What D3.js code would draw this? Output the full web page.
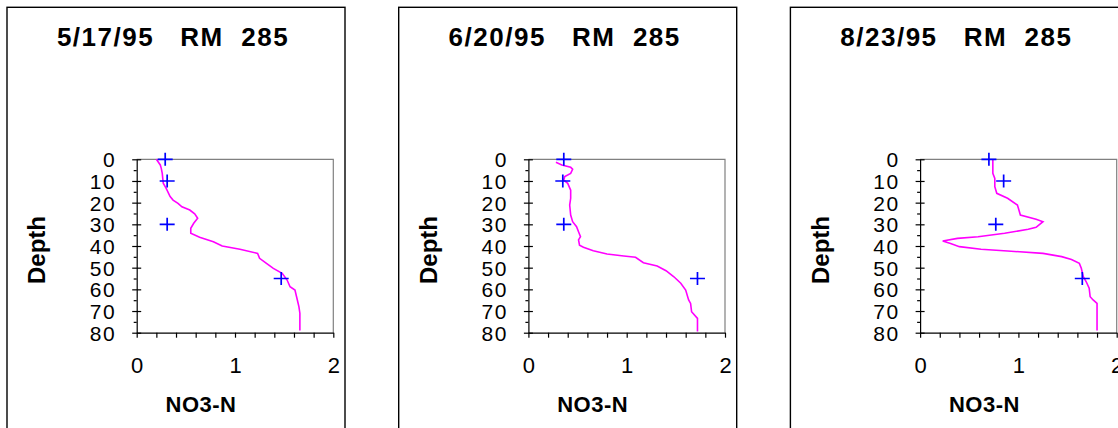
<!DOCTYPE html>
<html>
<head>
<meta charset="utf-8">
<script src="https://cdn.jsdelivr.net/npm/d3@7"></script>
<style>
  body { margin: 0; background: #fff; }
  svg { display: block; font-family: 'Liberation Sans', Arial, sans-serif; }
</style>
</head>
<body>
<div id="drawArea"></div>
<script>
// sample dates (panel titles)
const titles = ['5/17/95   RM  285', '6/20/95   RM  285', '8/23/95   RM  285'];

// discrete samples (blue +)
const sampleDepths = [0, 10, 30, 55];
const samples0517 = [0.29, 0.31, 0.31, 1.47];
const samples0620 = [0.36, 0.35, 0.36, 1.72];
const samples0823 = [0.70, 0.85, 0.77, 1.65];

// continuous profiles (magenta line)
const profDepth0517 = [0, 2.6, 4.2, 6.5, 11, 13.4, 17.2, 18.8, 20.3, 21.9, 23.4, 25.2, 27.2, 29.5, 31.8, 34.1, 36, 38, 40, 41.5, 43.4, 45.7, 48, 50.3, 52.6, 55.7, 58.8, 60.3, 64.1, 68, 71, 79];
const profNO3_0517 = [0.20, 0.24, 0.25, 0.26, 0.27, 0.30, 0.34, 0.37, 0.42, 0.46, 0.54, 0.59, 0.62, 0.58, 0.55, 0.55, 0.64, 0.78, 0.87, 1.05, 1.23, 1.25, 1.32, 1.39, 1.48, 1.53, 1.56, 1.61, 1.63, 1.65, 1.66, 1.66];

const profDepth0620 = [1.4, 2.6, 3.7, 4.6, 6.5, 8, 9.6, 11.1, 14.2, 18, 21.1, 25.7, 28.8, 31.1, 33.4, 35.7, 37.2, 39.6, 40.6, 42.2, 43.7, 44.6, 45.2, 47.7, 49.2, 51.4, 54.2, 57.2, 60.3, 64.9, 66.5, 70.3, 73.4, 79.5];
const profNO3_0620 = [0.28, 0.34, 0.43, 0.45, 0.43, 0.37, 0.36, 0.40, 0.43, 0.43, 0.42, 0.43, 0.45, 0.49, 0.51, 0.53, 0.51, 0.52, 0.56, 0.66, 0.80, 0.97, 1.09, 1.17, 1.31, 1.40, 1.48, 1.55, 1.60, 1.63, 1.65, 1.66, 1.72, 1.72];

const profDepth0823 = [0, 6.5, 8.8, 12.6, 15.7, 18, 21.1, 22.6, 25.7, 27.7, 28.8, 31.4, 32.3, 34.1, 35.7, 36.5, 37.7, 38.8, 40.3, 41.5, 42.3, 43.4, 44.9, 46.2, 48, 50.3, 54.2, 56.5, 59.5, 63.4, 64.9, 66.5, 79];
const profNO3_0823 = [0.74, 0.74, 0.76, 0.76, 0.78, 0.89, 0.99, 1.00, 1.02, 1.18, 1.25, 1.18, 1.10, 0.86, 0.59, 0.38, 0.23, 0.31, 0.40, 0.62, 0.89, 1.25, 1.44, 1.54, 1.62, 1.64, 1.66, 1.69, 1.72, 1.73, 1.76, 1.80, 1.80];

// axis ticks
const depthTicks = [0, 10, 20, 30, 40, 50, 60, 70, 80];
const depthMinorTicks = [5, 15, 25, 35, 45, 55, 65, 75];
const no3Ticks = [0, 0.2, 0.4, 0.6, 0.8, 1, 1.2, 1.4, 1.6, 1.8, 2];

const panels = [
  { title: titles[0], samples: samples0517, depth: profDepth0517, no3: profNO3_0517 },
  { title: titles[1], samples: samples0620, depth: profDepth0620, no3: profNO3_0620 },
  { title: titles[2], samples: samples0823, depth: profDepth0823, no3: profNO3_0823 },
];

const W = 1118, H = 428;
const panelStep = 391.7, panelX0 = 7, panelY0 = 7.3, panelW = 338;

const svg = d3.select('#drawArea').append('svg')
  .attr('width', W)
  .attr('height', H);

const x = d3.scaleLinear().domain([0, 2]).range([129.7, 326.3]);
const y = d3.scaleLinear().domain([0, 80]).range([159.3, 332.7]);

panels.forEach((p, i) => {
  const g = svg.append('g')
    .attr('transform', `translate(${panelX0 + i * panelStep}, 0)`);

  // panel border (runs off the bottom of the picture)
  g.append('rect')
    .attr('x', 0).attr('y', panelY0)
    .attr('width', panelW).attr('height', H)
    .attr('fill', 'none')
    .attr('stroke', '#000')
    .attr('stroke-width', 1.4);

  g.append('text')
    .attr('x', 166)
    .attr('y', 46)
    .attr('text-anchor', 'middle')
    .attr('font-size', 26)
    .attr('font-weight', 'bold')
    .attr('letter-spacing', 1.5)
    .style('white-space', 'pre')
    .text(p.title);

  // plot frame top/right in grey
  g.append('path')
    .attr('d', `M${x(0)},${y(0)}H${x(2)}V${y(80)}`)
    .attr('fill', 'none')
    .attr('stroke', '#808080')
    .attr('stroke-width', 1.2);

  // y axis, major ticks cross the line
  const yAx = g.append('g')
    .attr('transform', `translate(${x(0)},0)`)
    .call(d3.axisLeft(y).tickValues(depthTicks).tickSize(4.5).tickSizeOuter(0).tickPadding(16));
  yAx.selectAll('.tick line').attr('x2', -4.5).attr('x1', 4.5);
  yAx.selectAll('.tick text')
    .attr('font-size', 21)
    .attr('letter-spacing', 1.5)
    .attr('dy', '0.36em');
  yAx.attr('font-family', null).attr('font-size', null);

  g.append('g')
    .attr('transform', `translate(${x(0)},0)`)
    .call(d3.axisLeft(y).tickValues(depthMinorTicks).tickSize(3).tickSizeOuter(0).tickFormat(''))
    .call(s => s.select('.domain').remove());

  // x axis
  const xAx = g.append('g')
    .attr('transform', `translate(0,${y(80)})`)
    .call(d3.axisBottom(x).tickValues(no3Ticks).tickSize(5).tickSizeOuter(0)
      .tickFormat(d => Number.isInteger(d) ? d : ''));
  xAx.attr('font-family', null).attr('font-size', null);
  xAx.selectAll('.tick text')
    .attr('font-size', 22)
    .attr('y', 40.5)
    .attr('dy', 0);

  g.selectAll('.domain, .tick line')
    .attr('stroke', '#000')
    .attr('stroke-width', 1.2);

  // axis titles
  g.append('text')
    .attr('transform', `translate(30,250) rotate(-90)`)
    .attr('text-anchor', 'middle')
    .attr('font-size', 24)
    .attr('font-weight', 'bold')
    .attr('dy', '0.35em')
    .text('Depth');

  g.append('text')
    .attr('x', 194)
    .attr('y', 412)
    .attr('text-anchor', 'middle')
    .attr('font-size', 22)
    .attr('font-weight', 'bold')
    .attr('letter-spacing', 0.5)
    .text('NO3-N');

  // profile line
  const line = d3.line()
    .x((d, k) => x(p.no3[k]))
    .y(d => y(d));
  g.append('path')
    .datum(p.depth)
    .attr('d', line)
    .attr('fill', 'none')
    .attr('stroke', '#ff00ff')
    .attr('stroke-width', 1.6);

  // sample markers
  g.selectAll('.sample')
    .data(sampleDepths)
    .enter()
    .append('path')
    .attr('class', 'sample')
    .attr('transform', (d, k) => `translate(${x(p.samples[k])},${y(d)})`)
    .attr('d', 'M-7.5,0H7.5M0,-6.5V6.5')
    .attr('stroke', '#0000ff')
    .attr('stroke-width', 1.7);
});
</script>
</body>
</html>
